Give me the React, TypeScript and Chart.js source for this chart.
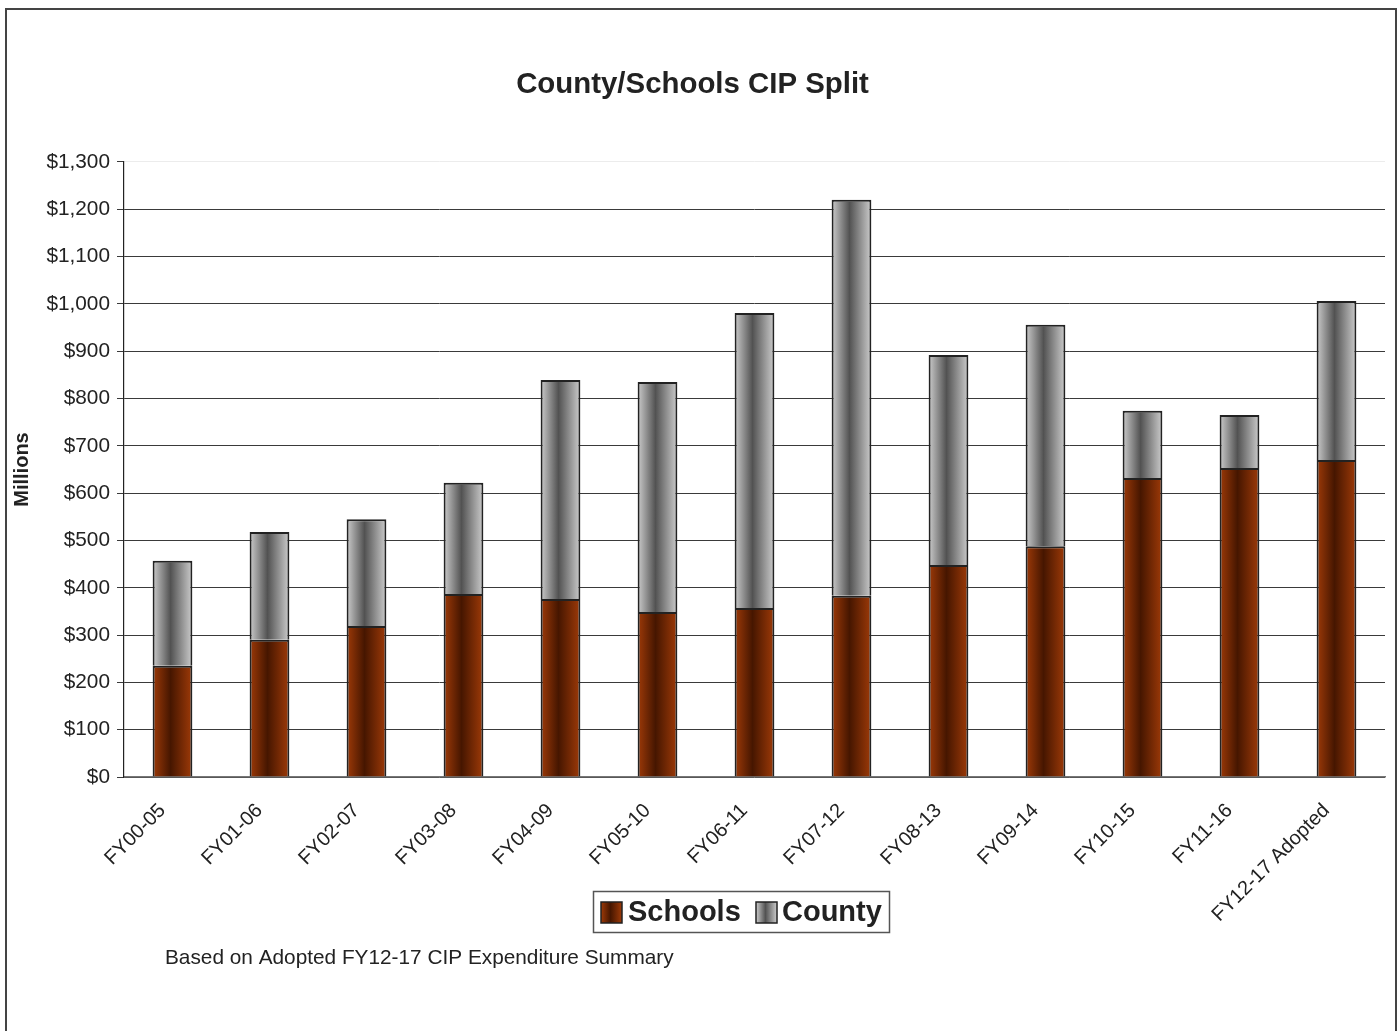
import React, { useEffect, useRef } from 'react';
import { Chart, registerables } from 'chart.js';

Chart.register(...registerables);

const categories = [
  'FY00-05', 'FY01-06', 'FY02-07', 'FY03-08', 'FY04-09', 'FY05-10', 'FY06-11',
  'FY07-12', 'FY08-13', 'FY09-14', 'FY10-15', 'FY11-16', 'FY12-17 Adopted',
];
const schools = [235, 290, 319, 387, 376, 349, 357, 383, 448, 488, 632, 653, 670];
const county = [222, 228, 226, 235, 463, 486, 624, 837, 444, 468, 142, 112, 336];

const titleText = 'County/Schools CIP Split';
const yAxisTitle = 'Millions';
const footnote = 'Based on Adopted FY12-17 CIP Expenditure Summary';

const FONT = "'Liberation Sans', Arial, Helvetica, sans-serif";
const BAR_PCT = 0.41;
const SCHOOLS_STOPS: [string, string] = ['#9e3a08', '#461600'];
const COUNTY_STOPS: [string, string] = ['#cccccc', '#525252'];

function grad(ctx: CanvasRenderingContext2D, x0: number, x1: number, stops: [string, string]) {
  const g = ctx.createLinearGradient(x0, 0, x1, 0);
  g.addColorStop(0, stops[0]);
  g.addColorStop(0.45, stops[1]);
  g.addColorStop(1, stops[0]);
  return g;
}

function barFill(stops: [string, string]) {
  return (c: any) => {
    const chart = c.chart;
    const xs = chart.scales && chart.scales.x;
    const area = chart.chartArea;
    if (!xs || !area || c.dataIndex === undefined) return stops[1];
    const cx = xs.getPixelForValue(c.dataIndex);
    const w = ((area.right - area.left) / categories.length) * BAR_PCT;
    return grad(chart.ctx, cx - w / 2, cx + w / 2, stops);
  };
}

const decorPlugin = {
  id: 'decor',
  afterDraw(chart: any) {
    const ctx: CanvasRenderingContext2D = chart.ctx;
    ctx.save();
    // outer frame
    ctx.strokeStyle = '#444';
    ctx.lineWidth = 2;
    ctx.strokeRect(6, 9, 1390, 1040);
    // legend box
    const lx = 593, ly = 891, lw = 296, lh = 41;
    ctx.fillStyle = '#fff';
    ctx.fillRect(lx, ly, lw, lh);
    ctx.strokeStyle = '#555';
    ctx.lineWidth = 1.5;
    ctx.strokeRect(lx + 0.5, ly + 0.5, lw, lh);
    const items = [
      { label: chart.data.datasets[0].label, stops: SCHOOLS_STOPS, sx: 601, tx: 628 },
      { label: chart.data.datasets[1].label, stops: COUNTY_STOPS, sx: 756, tx: 782 },
    ];
    ctx.font = `bold 29px ${FONT}`;
    ctx.textBaseline = 'middle';
    ctx.textAlign = 'left';
    for (const it of items) {
      ctx.fillStyle = grad(ctx, it.sx, it.sx + 21, it.stops);
      ctx.fillRect(it.sx, 902, 21, 21);
      ctx.strokeStyle = '#222';
      ctx.lineWidth = 1.5;
      ctx.strokeRect(it.sx, 902, 21, 21);
      ctx.fillStyle = '#222';
      ctx.fillText(it.label, it.tx, 913);
    }
    // footnote
    ctx.font = `20.8px ${FONT}`;
    ctx.fillStyle = '#222';
    ctx.textBaseline = 'middle';
    ctx.fillText(footnote, 165, 958);
    ctx.restore();
  },
};

export default function App() {
  const ref = useRef<HTMLCanvasElement | null>(null);
  useEffect(() => {
    document.body.style.margin = '0';
    const canvas = ref.current!;
    const chart = new Chart(canvas, {
      type: 'bar',
      data: {
        labels: categories,
        datasets: [
          {
            label: 'Schools',
            data: schools,
            backgroundColor: barFill(SCHOOLS_STOPS),
            borderColor: '#222',
            borderWidth: 2,
            borderSkipped: 'start',
            barPercentage: BAR_PCT,
            categoryPercentage: 1,
          },
          {
            label: 'County',
            data: county,
            backgroundColor: barFill(COUNTY_STOPS),
            borderColor: '#222',
            borderWidth: 2,
            borderSkipped: 'start',
            barPercentage: BAR_PCT,
            categoryPercentage: 1,
          },
        ],
      },
      options: {
        responsive: false,
        animation: false,
        layout: { padding: { left: 0, right: 14, top: 0, bottom: 0 } },
        plugins: {
          legend: { display: false },
          tooltip: { enabled: false },
          title: {
            display: true,
            text: titleText,
            color: '#222',
            font: { family: FONT, size: 29.4, weight: 'bold' },
            padding: { top: 67.4, bottom: 59.3 },
          },
        },
        scales: {
          x: {
            stacked: true,
            grid: { display: false, drawTicks: false },
            border: { display: true, color: '#777', width: 1.5 },
            ticks: {
              color: '#222',
              font: { family: FONT, size: 20 },
              minRotation: 45,
              maxRotation: 45,
              autoSkip: false,
              padding: 22,
              labelOffset: -10,
            },
            afterFit: (s: any) => { s.height = 254; },
          },
          y: {
            stacked: true,
            min: 0,
            max: 1300,
            ticks: {
              stepSize: 100,
              color: '#222',
              font: { family: FONT, size: 20.8 },
              padding: 7,
              callback: (v: any) => '$' + Number(v).toLocaleString('en-US'),
            },
            grid: {
              color: (c: any) => (c.tick && c.tick.value === 1300 ? '#ececec' : '#3a3a3a'),
              tickColor: '#3a3a3a',
              tickLength: 7,
              lineWidth: 1,
            },
            border: { display: true, color: '#222', width: 1.2 },
            title: {
              display: true,
              text: yAxisTitle,
              color: '#222',
              font: { family: FONT, size: 20, weight: 'bold' },
              padding: { top: 10, bottom: 0 },
            },
            afterFit: (s: any) => { s.width = 124; },
          },
        },
      },
      plugins: [decorPlugin],
    });
    return () => chart.destroy();
  }, []);
  return <canvas ref={ref} width={1399} height={1031} style={{ display: 'block' }} />;
}
